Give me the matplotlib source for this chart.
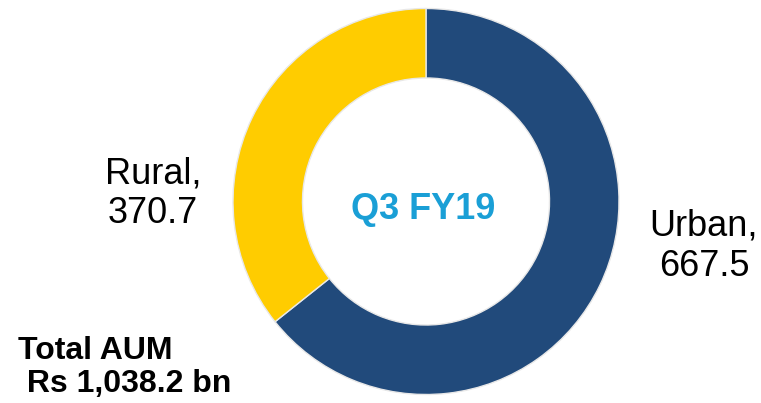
import matplotlib.pyplot as plt

# data
categories = ['Urban', 'Rural']
aum = [667.5, 370.7]
colors = ['#214A7B', '#FFCC00']
period = 'Q3 FY19'
total_label = 'Total AUM\n Rs 1,038.2 bn'

plt.rcParams['font.family'] = ['Liberation Sans', 'DejaVu Sans']

W, H = 761, 403
fig = plt.figure(figsize=(W / 100, H / 100), dpi=100)
ax = fig.add_axes([0, 0, 1, 1])

cx, cy, r = 426, H - 201.5, 193
ax.pie(aum, colors=colors, startangle=90, counterclock=False,
       center=(cx, cy), radius=r, frame=True,
       wedgeprops=dict(width=r * 0.36, edgecolor='#e8e8e8', linewidth=1))
ax.set_xlim(0, W)
ax.set_ylim(0, H)
ax.set_aspect('equal')
ax.axis('off')

# centre text
ax.text(cx - 3, cy - 8, period, ha='center', va='center', fontsize=26,
        fontweight='bold', color='#1A9FD6')

# slice labels
ax.text(704, H - 209, f'{categories[0]},\n{aum[0]}', ha='center', va='top',
        fontsize=26, color='black', linespacing=1.2)
ax.text(153, H - 156, f'{categories[1]},\n{aum[1]}', ha='center', va='top',
        fontsize=26, color='black', linespacing=1.2)

# total
ax.text(18, H - 336, total_label, ha='left', va='top', fontsize=23,
        fontweight='bold', color='black', linespacing=1.15)

fig.savefig('out.png', dpi=100)
